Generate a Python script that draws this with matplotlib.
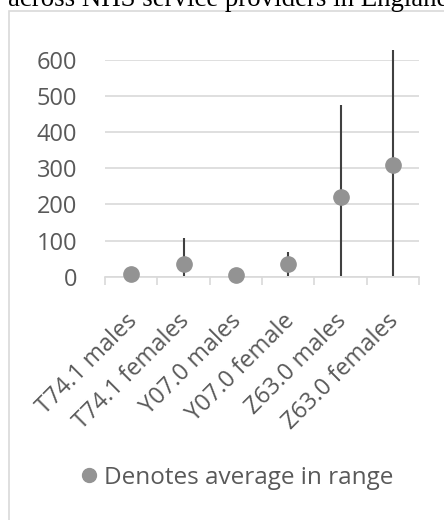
import matplotlib.pyplot as plt
from matplotlib.lines import Line2D
from matplotlib.patches import Rectangle
from matplotlib.transforms import ScaledTranslation

# Data
categories = ['T74.1 males', 'T74.1 females', 'Y07.0 males', 'Y07.0 female', 'Z63.0 males', 'Z63.0 females']
average = [7, 35, 6, 34, 220, 310]
range_low = [2, 3, 2, 3, 3, 3]
range_high = [14, 106, 12, 69, 475, 628]
y_ticks = [0, 100, 200, 300, 400, 500, 600]

text_col = '#595959'
grid_col = '#d9d9d9'
dot_col = '#939393'
line_col = '#404040'

plt.rcParams['font.family'] = ['Open Sans', 'DejaVu Sans']

fig = plt.figure(figsize=(4.44, 5.2), dpi=100)
ax = fig.add_axes([105 / 444, 1 - 276.7 / 520, 314 / 444, 216.7 / 520])

x = list(range(len(categories)))

# range lines and average dots
ax.vlines(x, range_low, range_high, colors=line_col, lw=1.5, zorder=3, clip_on=False)
ax.plot(x, average, 'o', color=dot_col, ms=11, zorder=4, clip_on=False)

ax.set_xlim(-0.5, len(categories) - 0.5)
ax.set_ylim(0, 600)
ax.set_yticks(y_ticks)
ax.set_yticklabels([str(v) for v in y_ticks], fontsize=17, color=text_col)
ax.yaxis.grid(True, color=grid_col, lw=1.2)
ax.set_axisbelow(True)
ax.tick_params(axis='y', length=0, pad=20)

# category labels between boundary ticks
ax.set_xticks(x)
ax.set_xticklabels(categories, rotation=45, ha='right', rotation_mode='anchor',
                   fontsize=17, color=text_col)
ax.tick_params(axis='x', which='major', length=0, pad=23)
shift = ScaledTranslation(-6 / 100, 0, fig.dpi_scale_trans)
for lab in ax.get_xticklabels():
    lab.set_transform(lab.get_transform() + shift)
ax.set_xticks([i - 0.5 for i in range(len(categories) + 1)], minor=True)
ax.tick_params(axis='x', which='minor', length=6, color=grid_col, width=1.2)

for s in ['top', 'right', 'left']:
    ax.spines[s].set_visible(False)
ax.spines['bottom'].set_color(grid_col)
ax.spines['bottom'].set_linewidth(1.2)

# legend
handle = Line2D([], [], marker='o', color=dot_col, ls='none', ms=10)
fig.legend(handles=[handle], labels=['Denotes average in range'], loc='center',
           bbox_to_anchor=(0.53, 0.081), frameon=False, fontsize=17.5,
           labelcolor=text_col, handletextpad=0.1, handlelength=1.0)

# chart border (partially outside the crop)
fig.patches.append(Rectangle((9 / 444, -0.1), 1.5, 1.1 - 11 / 520, transform=fig.transFigure,
                             fill=False, edgecolor=grid_col, lw=1.2))

# cut-off heading above the chart
fig.text(8 / 444, 1 - 6 / 520, 'across NHS service providers in England',
         family='Liberation Serif', fontsize=19.4, color='black', va='baseline', ha='left')

fig.savefig('out.png', dpi=100)
